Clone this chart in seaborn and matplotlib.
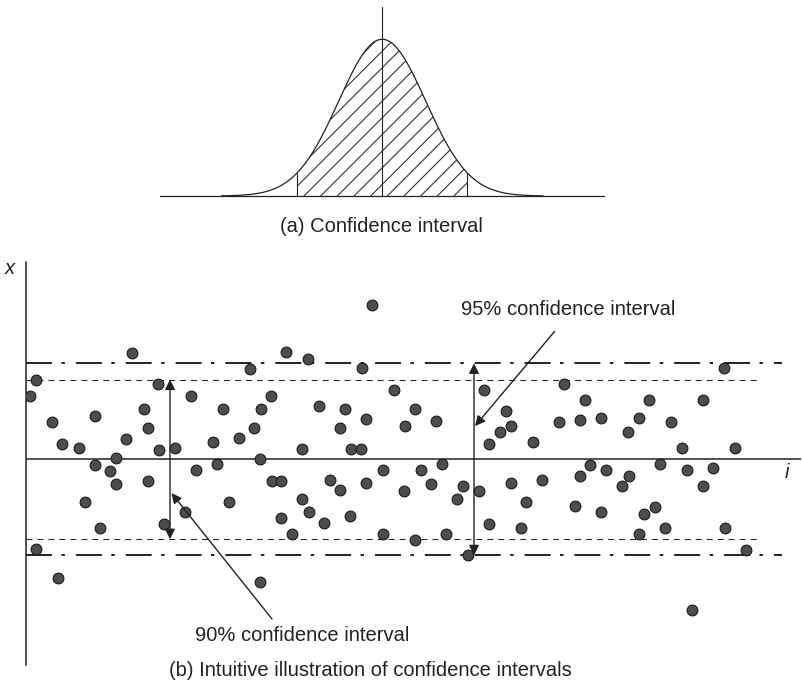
import numpy as np
import pandas as pd
import seaborn as sns
from matplotlib import pyplot as plt

# sample index i and measured value x (in sigma units) for each dot
idx = [21.3, 2.1, 0.9, 5.3, 13.9, 23.6, 24.5, 7.3, 10.6, 20.1, 18.1, 13.9, 16.9, 18.1, 24.5, 11.8, 14.9, 2.1, 6.5,
       44.9, 26.5, 33.0, 49.0, 39.4, 47.0, 45.7, 42.6, 37.4, 26.6, 29.8, 46.9, 38.3, 34.0, 49.2, 40.6, 31.9, 27.7, 46.9,
       69.3, 52.1, 56.5, 67.3, 73.7, 58.6, 63.9, 68.1, 62.8, 55.3, 65.1, 67.1, 71.5, 51.1, 60.9, 62.9, 68.1, 55.3,
       51.1, 56.6, 59.7, 64.9, 53.3, 71.5,
       91.7, 77.8, 75.8, 82.1, 96.1, 97.0, 94.9, 92.7, 83.3, 79.0, 81.0, 87.5, 90.7, 75.7, 86.3, 97.0, 100.0, 92.7,
       99.1, 84.1, 77.8, 88.5,
       107.7, 111.9, 124.6, 106.6, 110.9, 115.1, 122.6, 120.5, 101.4, 112.9, 116.1, 120.6, 110.8, 119.3, 103.3,
       109.9, 115.1, 123.7, 122.6,
       139.6, 135.4, 129.0, 131.3, 141.8, 126.9, 132.2, 137.5, 135.4, 125.8, 127.9, 139.8, 144.0, 133.3]
vals = [2.18, 1.62, 1.29, 0.76, 0.88, 1.02, 0.64, 0.32, 0.23, 0.41, 0.03, -0.11, -0.24, -0.50, -0.44, -0.87, -1.40,
        -1.84, -2.42,
        1.85, 1.53, 1.29, 1.29, 1.02, 1.02, 0.64, 0.43, 0.36, 0.20, 0.23, 0.00, -0.10, -0.22, -0.44, -0.87, -1.08,
        -1.33, -2.51,
        3.16, 2.19, 2.04, 1.86, 1.41, 1.08, 1.02, 0.82, 0.65, 0.22, 0.22, 0.22, -0.22, -0.44, -0.43, -0.62, -0.49,
        -0.82, -1.20, -1.08, -1.31, -1.15, -1.52, -1.52,
        1.41, 1.02, 0.69, 0.78, 0.98, 0.69, 0.55, 0.31, -0.10, -0.22, -0.50, -0.55, -0.65, -0.65, -0.82, -0.49,
        -0.87, -1.33, -1.40, -1.52, -1.65, -1.96,
        1.53, 1.21, 1.21, 0.76, 0.81, 0.84, 0.84, 0.55, 0.35, -0.11, -0.22, -0.34, -0.34, -0.54, -0.43, -0.95,
        -1.08, -1.12, -1.52,
        1.86, 1.21, 0.77, 0.23, 0.23, -0.10, -0.22, -0.17, -0.55, -0.98, -1.41, -1.41, -1.85, -3.08]

lim90 = 1.63
lim95 = 1.96
z_bound = 1.96
z_tail = 3.7

sns.set_style('white')
plt.rcParams['font.family'] = ['Liberation Sans', 'DejaVu Sans']
plt.rcParams['lines.scale_dashes'] = False
plt.rcParams['hatch.linewidth'] = 0.8
plt.rcParams['hatch.color'] = '#333333'

W, H = 803, 693
fig = plt.figure(figsize=(W / 100, H / 100), dpi=100)
ink = '#222222'

# (a) normal curve with hatched confidence region
axa = fig.add_axes([160 / W, (H - 196) / H, 444 / W, 188.7 / H])
z = np.linspace(-z_tail, z_tail, 400)
curve = pd.DataFrame({'z': z, 'p': np.exp(-z ** 2 / 2) / np.sqrt(2 * np.pi)})
sns.lineplot(data=curve, x='z', y='p', ax=axa, color=ink, lw=0.9)
inner = curve[curve.z.abs() <= z_bound]
axa.fill_between(inner.z, 0, inner.p, facecolor='none', edgecolor='#333333', hatch='//', linewidth=0)
pb = np.exp(-z_bound ** 2 / 2) / np.sqrt(2 * np.pi)
axa.vlines([-z_bound, z_bound], 0, pb, color=ink, lw=0.8)
axa.axvline(0, color=ink, lw=0.8)
axa.axhline(0, color=ink, lw=0.9, clip_on=False)
axa.set_xlim(-5.11, 5.10)
axa.set_ylim(0, 0.4804)
axa.axis('off')

# (b) scatter of samples with confidence bands
ax = fig.add_axes([26 / W, 28 / H, 775 / W, 403 / H])
pts = pd.DataFrame({'i': idx, 'x': vals})
ax.hlines(0, 0, 155, color=ink, lw=1.1, zorder=1)
ax.hlines([lim90, -lim90], 0, 146.2, color=ink, lw=0.75, linestyles=[(0, (4.3, 3.6))], zorder=1)
ax.hlines([lim95, -lim95], 0, 151.2, color=ink, lw=1.4,
          linestyles=[(0, (18.7, 6.8, 2.5, 7.9))], zorder=1)
sns.scatterplot(data=pts, x='i', y='x', ax=ax, s=60, color='#4d4d4d', edgecolor='#1a1a1a',
                linewidth=0.8, zorder=3, legend=False)

arrow2 = dict(arrowstyle='<|-|>', color=ink, lw=1.0, shrinkA=0, shrinkB=0, mutation_scale=15)
ax.annotate('', xy=(28.8, -lim90), xytext=(28.8, lim90), arrowprops=arrow2, zorder=4)
ax.annotate('', xy=(89.6, -lim95), xytext=(89.6, lim95), arrowprops=arrow2, zorder=4)
arrow1 = dict(arrowstyle='-|>', color=ink, lw=1.0, shrinkA=0, shrinkB=0, mutation_scale=15)
ax.annotate('', xy=(29.1, -0.69), xytext=(49.2, -3.26), arrowprops=arrow1, zorder=4)
ax.annotate('', xy=(89.8, 0.68), xytext=(105.7, 2.61), arrowprops=arrow1, zorder=4)
ax.text(55.3, -3.59, '90% confidence interval', ha='center', va='center', fontsize=14.5, color=ink)
ax.text(108.5, 3.05, '95% confidence interval', ha='center', va='center', fontsize=14.5, color=ink)

ax.set_xlim(0, 155)
ax.set_ylim(-4.20, 4.03)
ax.set(xlabel='', ylabel='', xticks=[], yticks=[])
for s in ['top', 'right', 'bottom']:
    ax.spines[s].set_visible(False)
ax.spines['left'].set_color(ink)
ax.spines['left'].set_linewidth(1.1)

fig.text(381.7 / W, 1 - 226 / H, '(a) Confidence interval', ha='center', va='center', fontsize=14.5, color=ink)
fig.text(370 / W, 1 - 671 / H, '(b) Intuitive illustration of confidence intervals', ha='center', va='center',
         fontsize=14.5, color=ink)
fig.text(10 / W, 1 - 268 / H, 'x', ha='center', va='center', fontsize=14.5, style='italic', color=ink)
fig.text(786.7 / W, 1 - 473 / H, 'i', ha='center', va='center', fontsize=14.5, style='italic', color=ink)

plt.savefig('out.png', dpi=100)
